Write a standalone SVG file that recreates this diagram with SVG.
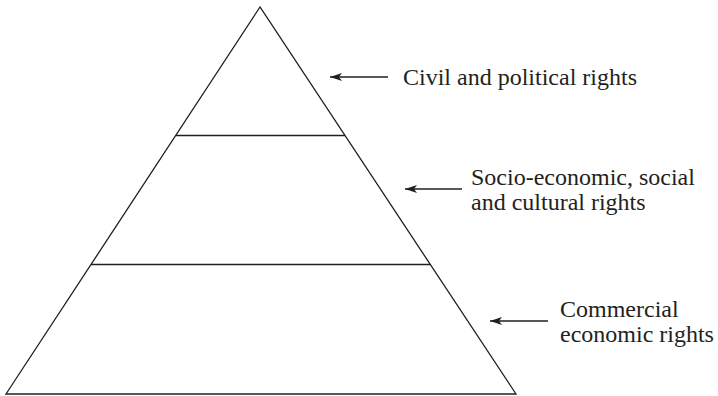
<svg xmlns="http://www.w3.org/2000/svg" width="718" height="396" viewBox="0 0 718 396">
<style>
.ln{stroke:#231f20;stroke-width:1.3;fill:none}
.t{font-family:"Liberation Serif","Times New Roman",serif;font-size:24px;fill:#231f20}
.ar{stroke:#231f20;stroke-width:1.3;fill:none}
</style>
<defs>
<marker id="ah" markerWidth="13" markerHeight="9" refX="12" refY="4.5" orient="auto" markerUnits="userSpaceOnUse">
<path d="M0,0.5 L12,4.5 L0,8.5 L3,4.5 Z" fill="#231f20"/>
</marker>
</defs>
<rect width="718" height="396" fill="#fff"/>
<g id="pyramid">
<polygon class="ln" points="260,7 6,394 516,394"/>
<line class="ln" x1="176" y1="135.5" x2="345" y2="135.5"/>
<line class="ln" x1="91" y1="264.5" x2="430" y2="264.5"/>
</g>
<g id="label-civil">
<text class="t" x="403" y="85">Civil and political rights</text>
</g>
<g id="label-socio">
<text class="t" x="471" y="185">Socio-economic, social</text>
<text class="t" x="471" y="210">and cultural rights</text>
</g>
<g id="label-commercial">
<text class="t" x="560" y="317">Commercial</text>
<text class="t" x="560" y="342">economic rights</text>
</g>
<g id="connectors">
<line class="ar" x1="388" y1="77" x2="330" y2="77" marker-end="url(#ah)"/>
<line class="ar" x1="462" y1="189" x2="405" y2="189" marker-end="url(#ah)"/>
<line class="ar" x1="548" y1="321" x2="490" y2="321" marker-end="url(#ah)"/>
</g>
</svg>
